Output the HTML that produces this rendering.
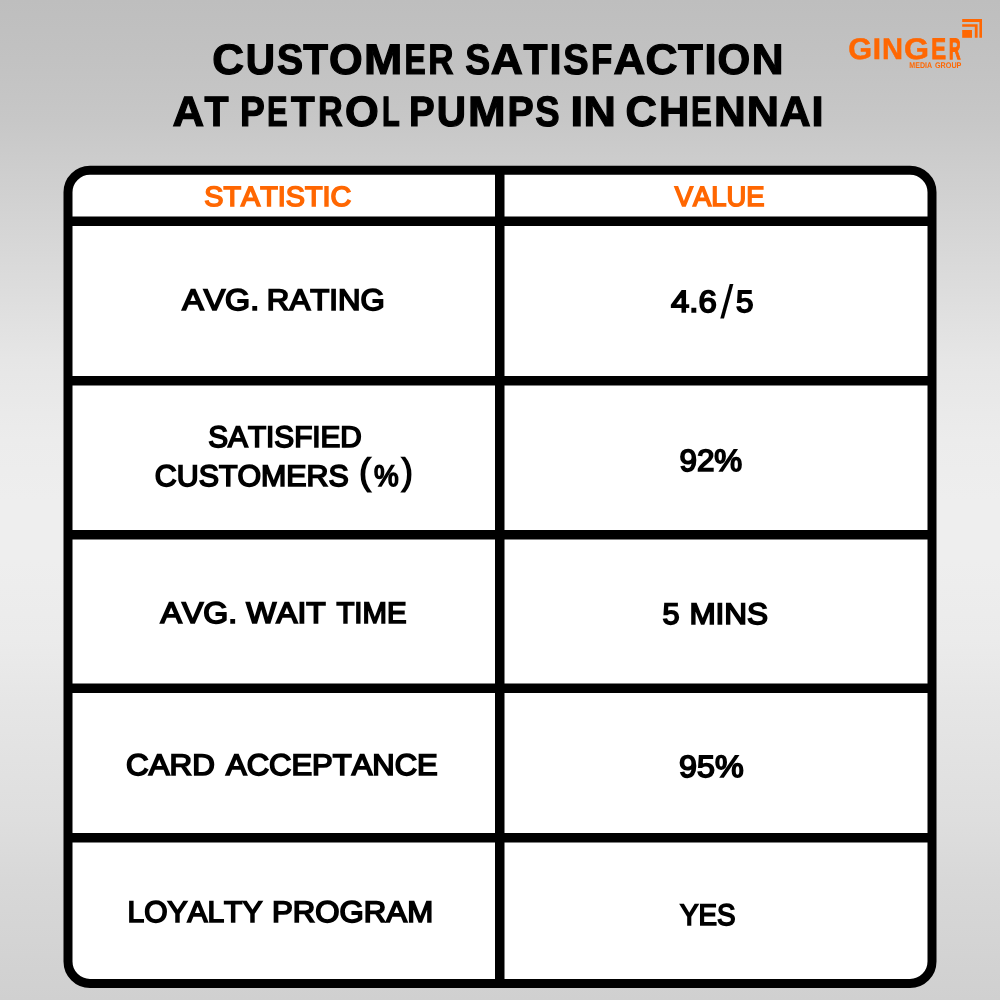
<!DOCTYPE html>
<html lang="en">
<head>
<meta charset="utf-8">
<title>Customer Satisfaction at Petrol Pumps in Chennai</title>
<style>
html,body{margin:0;padding:0;width:1000px;height:1000px;overflow:hidden;background:#c9c9c9}
svg{display:block}
text{font-family:"Liberation Sans",sans-serif;text-rendering:geometricPrecision;font-kerning:none}
</style>
</head>
<body>
<svg width="1000" height="1000" viewBox="0 0 1000 1000">
<defs>
<linearGradient id="bgv" x1="0" y1="0" x2="0" y2="1">
<stop offset="0" stop-color="#bebebe"/>
<stop offset="0.06" stop-color="#c2c2c2"/>
<stop offset="0.12" stop-color="#c7c7c7"/>
<stop offset="0.18" stop-color="#cfcfcf"/>
<stop offset="0.3" stop-color="#dedede"/>
<stop offset="0.36" stop-color="#e6e6e6"/>
<stop offset="0.44" stop-color="#ececec"/>
<stop offset="0.5" stop-color="#eeeeee"/>
<stop offset="0.56" stop-color="#eeeeee"/>
<stop offset="0.64" stop-color="#ebebeb"/>
<stop offset="0.7" stop-color="#e6e6e6"/>
<stop offset="0.82" stop-color="#dedede"/>
<stop offset="0.88" stop-color="#d8d8d8"/>
<stop offset="0.94" stop-color="#d4d4d4"/>
<stop offset="1.0" stop-color="#d0d0d0"/>
</linearGradient>
</defs>
<rect width="1000" height="1000" fill="url(#bgv)"/>
<!-- table -->
<rect x="68" y="170.25" width="864" height="813.25" rx="22" ry="22" fill="#ffffff" stroke="#000000" stroke-width="9"/>
<g fill="#000000">
<rect x="495" y="166" width="9.5" height="822"/>
<rect x="64" y="216.5" width="872" height="9.5"/>
<rect x="64" y="376" width="872" height="9.5"/>
<rect x="64" y="530" width="872" height="9.5"/>
<rect x="64" y="683.5" width="872" height="9.5"/>
<rect x="64" y="833" width="872" height="9.5"/>
</g>
<!-- logo icon -->
<g fill="#ff6702">
<path d="M962.2 19H982V37.8H979.4V22H962.2Z"/>
<path d="M962.2 24.2H977.6V37.8H974.8V26.8H962.2Z"/>
<rect x="962.2" y="30" width="9.8" height="7.8"/>
</g>
<text id="t1" y="74.00" font-size="42.58" font-weight="700" fill="#000000" stroke="#000000" stroke-width="1.2" stroke-linejoin="miter"><tspan x="212.24" textLength="31.80" lengthAdjust="spacingAndGlyphs">C</tspan><tspan x="245.84" textLength="29.29" lengthAdjust="spacingAndGlyphs">U</tspan><tspan x="277.01" textLength="26.10" lengthAdjust="spacingAndGlyphs">S</tspan><tspan x="303.35" textLength="24.75" lengthAdjust="spacingAndGlyphs">T</tspan><tspan x="329.08" textLength="33.65" lengthAdjust="spacingAndGlyphs">O</tspan><tspan x="363.97" textLength="38.31" lengthAdjust="spacingAndGlyphs">M</tspan><tspan x="404.40" textLength="21.28" lengthAdjust="spacingAndGlyphs">E</tspan><tspan x="428.15" textLength="25.32" lengthAdjust="spacingAndGlyphs">R</tspan> <tspan x="465.18" textLength="24.95" lengthAdjust="spacingAndGlyphs">S</tspan><tspan x="490.70" textLength="32.09" lengthAdjust="spacingAndGlyphs">A</tspan><tspan x="523.60" textLength="24.01" lengthAdjust="spacingAndGlyphs">T</tspan><tspan x="549.45" textLength="12.09" lengthAdjust="spacingAndGlyphs">I</tspan><tspan x="563.17" textLength="25.37" lengthAdjust="spacingAndGlyphs">S</tspan><tspan x="590.99" textLength="21.34" lengthAdjust="spacingAndGlyphs">F</tspan><tspan x="613.41" textLength="31.75" lengthAdjust="spacingAndGlyphs">A</tspan><tspan x="645.64" textLength="32.06" lengthAdjust="spacingAndGlyphs">C</tspan><tspan x="677.95" textLength="24.88" lengthAdjust="spacingAndGlyphs">T</tspan><tspan x="704.45" textLength="12.09" lengthAdjust="spacingAndGlyphs">I</tspan><tspan x="717.59" textLength="32.72" lengthAdjust="spacingAndGlyphs">O</tspan><tspan x="751.68" textLength="31.80" lengthAdjust="spacingAndGlyphs">N</tspan></text>
<text id="t2" y="126.00" font-size="42.46" font-weight="700" fill="#000000" stroke="#000000" stroke-width="1.2" stroke-linejoin="miter"><tspan x="172.41" textLength="31.62" lengthAdjust="spacingAndGlyphs">A</tspan><tspan x="204.60" textLength="24.03" lengthAdjust="spacingAndGlyphs">T</tspan> <tspan x="239.89" textLength="24.82" lengthAdjust="spacingAndGlyphs">P</tspan><tspan x="267.09" textLength="20.61" lengthAdjust="spacingAndGlyphs">E</tspan><tspan x="290.93" textLength="23.68" lengthAdjust="spacingAndGlyphs">T</tspan><tspan x="317.88" textLength="24.75" lengthAdjust="spacingAndGlyphs">R</tspan><tspan x="344.93" textLength="33.77" lengthAdjust="spacingAndGlyphs">O</tspan><tspan x="381.91" textLength="17.83" lengthAdjust="spacingAndGlyphs">L</tspan> <tspan x="408.97" textLength="25.66" lengthAdjust="spacingAndGlyphs">P</tspan><tspan x="436.86" textLength="29.29" lengthAdjust="spacingAndGlyphs">U</tspan><tspan x="468.14" textLength="37.60" lengthAdjust="spacingAndGlyphs">M</tspan><tspan x="507.41" textLength="26.22" lengthAdjust="spacingAndGlyphs">P</tspan><tspan x="535.20" textLength="24.35" lengthAdjust="spacingAndGlyphs">S</tspan> <tspan x="570.40" textLength="12.60" lengthAdjust="spacingAndGlyphs">I</tspan><tspan x="583.54" textLength="32.37" lengthAdjust="spacingAndGlyphs">N</tspan> <tspan x="625.61" textLength="31.43" lengthAdjust="spacingAndGlyphs">C</tspan><tspan x="659.01" textLength="30.32" lengthAdjust="spacingAndGlyphs">H</tspan><tspan x="691.05" textLength="20.86" lengthAdjust="spacingAndGlyphs">E</tspan><tspan x="714.09" textLength="31.77" lengthAdjust="spacingAndGlyphs">N</tspan><tspan x="746.68" textLength="32.29" lengthAdjust="spacingAndGlyphs">N</tspan><tspan x="779.83" textLength="30.90" lengthAdjust="spacingAndGlyphs">A</tspan><tspan x="811.44" textLength="12.11" lengthAdjust="spacingAndGlyphs">I</tspan></text>
<text id="h1" y="206.00" font-size="27.80" font-weight="400" fill="#ff6702" stroke="#ff6702" stroke-width="1.6" stroke-linejoin="miter"><tspan x="204.26" textLength="146.99" lengthAdjust="spacingAndGlyphs">STATISTIC</tspan></text>
<text id="h2" y="206.00" font-size="27.80" font-weight="400" fill="#ff6702" stroke="#ff6702" stroke-width="1.6" stroke-linejoin="miter"><tspan x="674.69" textLength="89.82" lengthAdjust="spacingAndGlyphs">VALUE</tspan></text>
<text id="a1" y="310.00" font-size="29.78" font-weight="400" fill="#000000" stroke="#000000" stroke-width="1.7" stroke-linejoin="miter"><tspan x="182.17" textLength="76.97" lengthAdjust="spacingAndGlyphs">AVG.</tspan> <tspan x="266.88" textLength="117.83" lengthAdjust="spacingAndGlyphs">RATING</tspan></text>
<text id="b1" y="312.00" font-size="30.80" font-weight="400" fill="#000000" stroke="#000000" stroke-width="1.7" stroke-linejoin="miter"><tspan x="671.05" y="312.00" textLength="45.69" lengthAdjust="spacingAndGlyphs">4.6</tspan><tspan x="720.16" y="317.80" font-size="47" font-weight="400" stroke="none" textLength="13.12" lengthAdjust="spacingAndGlyphs">/</tspan><tspan x="736.02" y="312.00" textLength="17.51" lengthAdjust="spacingAndGlyphs">5</tspan></text>
<text id="a2" y="447.00" font-size="29.84" font-weight="400" fill="#000000" stroke="#000000" stroke-width="1.7" stroke-linejoin="miter"><tspan x="208.25" textLength="153.59" lengthAdjust="spacingAndGlyphs">SATISFIED</tspan></text>
<text id="a2b" y="486.00" font-size="29.81" font-weight="400" fill="#000000" stroke="#000000" stroke-width="1.7" stroke-linejoin="miter"><tspan x="154.84" y="486.00" textLength="193.84" lengthAdjust="spacingAndGlyphs">CUSTOMERS</tspan> <tspan x="359.24" y="484.00" font-size="36.6" textLength="11.45" lengthAdjust="spacingAndGlyphs">(</tspan><tspan x="374.00" y="486.00" textLength="24.63" lengthAdjust="spacingAndGlyphs">%</tspan><tspan x="401.63" y="484.00" font-size="36.6" textLength="10.96" lengthAdjust="spacingAndGlyphs">)</tspan></text>
<text id="b2" y="471.00" font-size="30.80" font-weight="400" fill="#000000" stroke="#000000" stroke-width="1.7" stroke-linejoin="miter"><tspan x="679.44" textLength="62.77" lengthAdjust="spacingAndGlyphs">92%</tspan></text>
<text id="a3" y="623.00" font-size="29.78" font-weight="400" fill="#000000" stroke="#000000" stroke-width="1.7" stroke-linejoin="miter"><tspan x="160.59" textLength="76.61" lengthAdjust="spacingAndGlyphs">AVG.</tspan> <tspan x="246.31" textLength="79.40" lengthAdjust="spacingAndGlyphs">WAIT</tspan> <tspan x="336.42" textLength="70.13" lengthAdjust="spacingAndGlyphs">TIME</tspan></text>
<text id="b3" y="624.00" font-size="29.84" font-weight="400" fill="#000000" stroke="#000000" stroke-width="1.7" stroke-linejoin="miter"><tspan x="662.47" textLength="17.07" lengthAdjust="spacingAndGlyphs">5</tspan> <tspan x="689.40" textLength="78.70" lengthAdjust="spacingAndGlyphs">MINS</tspan></text>
<text id="a4" y="775.00" font-size="29.78" font-weight="400" fill="#000000" stroke="#000000" stroke-width="1.7" stroke-linejoin="miter"><tspan x="126.02" textLength="88.81" lengthAdjust="spacingAndGlyphs">CARD</tspan> <tspan x="226.01" textLength="211.71" lengthAdjust="spacingAndGlyphs">ACCEPTANCE</tspan></text>
<text id="b4" y="777.00" font-size="30.80" font-weight="400" fill="#000000" stroke="#000000" stroke-width="1.7" stroke-linejoin="miter"><tspan x="679.08" textLength="64.61" lengthAdjust="spacingAndGlyphs">95%</tspan></text>
<text id="a5" y="922.00" font-size="29.84" font-weight="400" fill="#000000" stroke="#000000" stroke-width="1.7" stroke-linejoin="miter"><tspan x="127.53" textLength="134.89" lengthAdjust="spacingAndGlyphs">LOYALTY</tspan> <tspan x="272.05" textLength="161.07" lengthAdjust="spacingAndGlyphs">PROGRAM</tspan></text>
<text id="b5" y="925.00" font-size="29.84" font-weight="400" fill="#000000" stroke="#000000" stroke-width="1.7" stroke-linejoin="miter"><tspan x="680.00" textLength="55.57" lengthAdjust="spacingAndGlyphs">YES</tspan></text>
<text id="g1" y="59.00" font-size="29.74" font-weight="700" fill="#ff6702" stroke="#ff6702" stroke-width="0.5" stroke-linejoin="miter"><tspan x="848.16" textLength="23.84" lengthAdjust="spacingAndGlyphs">G</tspan><tspan x="872.65" textLength="8.30" lengthAdjust="spacingAndGlyphs">I</tspan><tspan x="881.90" textLength="21.04" lengthAdjust="spacingAndGlyphs">N</tspan><tspan x="903.92" textLength="25.03" lengthAdjust="spacingAndGlyphs">G</tspan><tspan x="931.33" stroke-width="0.9" textLength="14.83" lengthAdjust="spacingAndGlyphs">E</tspan><tspan x="949.01" stroke-width="1.3" textLength="11.54" lengthAdjust="spacingAndGlyphs">R</tspan></text>
<text id="g2" y="68.00" font-size="8.22" font-weight="700" fill="#ff6702"><tspan x="909.34" textLength="22.66" lengthAdjust="spacingAndGlyphs">MEDIA</tspan> <tspan x="935.00" textLength="26.43" lengthAdjust="spacingAndGlyphs">GROUP</tspan></text>
</svg>
</body>
</html>
